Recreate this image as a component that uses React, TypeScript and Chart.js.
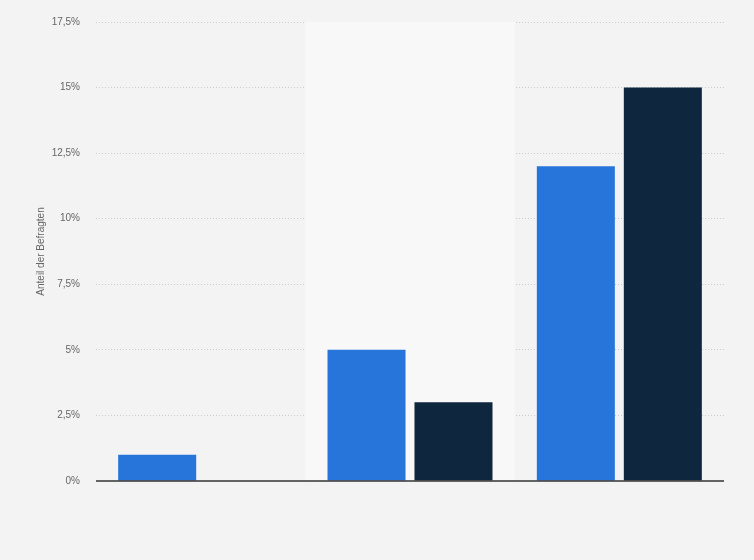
import { useEffect, useRef } from 'react';
import { Chart, registerables } from 'chart.js';

Chart.register(...registerables);

// the picture shows no category or series names
const categories = ['A', 'B', 'C'];
const seriesBlue = [1, 5, 12];
const seriesNavy = [0, 3, 15];
const yTicks = [0, 2.5, 5, 7.5, 10, 12.5, 15, 17.5];

const fmt = (v: number) => `${String(v).replace('.', ',')}%`;

// light band behind the middle category + solid baseline at 0
const bandsPlugin = {
  id: 'bands',
  beforeDatasetsDraw: (chart: any) => {
    const { ctx, chartArea, scales } = chart;
    const x = scales.x;
    const w = (chartArea.right - chartArea.left) / categories.length;
    ctx.save();
    categories.forEach((_, i) => {
      if (i % 2 !== 1) return;
      const cx = x.getPixelForValue(i);
      ctx.fillStyle = '#f8f8f8';
      ctx.fillRect(cx - w / 2, chartArea.top, w, chartArea.bottom - chartArea.top);
    });
    ctx.restore();
  },
  afterDatasetsDraw: (chart: any) => {
    const { ctx, chartArea, scales } = chart;
    const y0 = scales.y.getPixelForValue(0);
    ctx.save();
    ctx.strokeStyle = '#333333';
    ctx.lineWidth = 1.5;
    ctx.beginPath();
    ctx.moveTo(chartArea.left, y0);
    ctx.lineTo(chartArea.right, y0);
    ctx.stroke();
    ctx.restore();
  },
};

export default function App() {
  const canvasRef = useRef<HTMLCanvasElement | null>(null);

  useEffect(() => {
    if (!canvasRef.current) return;
    const chart = new Chart(canvasRef.current, {
      type: 'bar',
      data: {
        labels: categories,
        datasets: [
          { label: 'Serie 1', data: seriesBlue, backgroundColor: '#2775db', borderWidth: 0 },
          { label: 'Serie 2', data: seriesNavy, backgroundColor: '#0f273e', borderWidth: 0 },
        ],
      },
      options: {
        animation: false,
        responsive: false,
        maintainAspectRatio: false,
        layout: { padding: { left: 0, right: 30, top: 20, bottom: 79 } },
        datasets: { bar: { categoryPercentage: 0.831, barPercentage: 0.897 } },
        plugins: { legend: { display: false }, tooltip: { enabled: false } },
        scales: {
          x: { display: false },
          y: {
            min: 0,
            max: 17.5,
            afterBuildTicks: (s: any) => {
              s.ticks = yTicks.map((v) => ({ value: v }));
            },
            afterFit: (s: any) => {
              s.width = 96;
            },
            ticks: {
              callback: (v: any) => fmt(Number(v)),
              color: '#666666',
              font: { family: 'Liberation Sans', size: 10 },
              padding: 16,
            },
            grid: {
              drawTicks: false,
              color: (c: any) => (c.tick && c.tick.value === 0 ? 'rgba(0,0,0,0)' : '#cccccc'),
              lineWidth: 1,
            },
            border: { display: false, dash: [1, 2] },
            title: {
              display: true,
              text: 'Anteil der Befragten',
              color: '#666666',
              font: { family: 'Liberation Sans', size: 10 },
              padding: { top: 35, bottom: 0 },
            },
          },
        },
      },
      plugins: [bandsPlugin],
    } as any);
    return () => chart.destroy();
  }, []);

  return (
    <div style={{ position: 'absolute', left: 0, top: 0, width: 754, height: 560, background: '#f3f3f3' }}>
      <canvas ref={canvasRef} width={754} height={560} style={{ width: 754, height: 560 }} />
    </div>
  );
}
